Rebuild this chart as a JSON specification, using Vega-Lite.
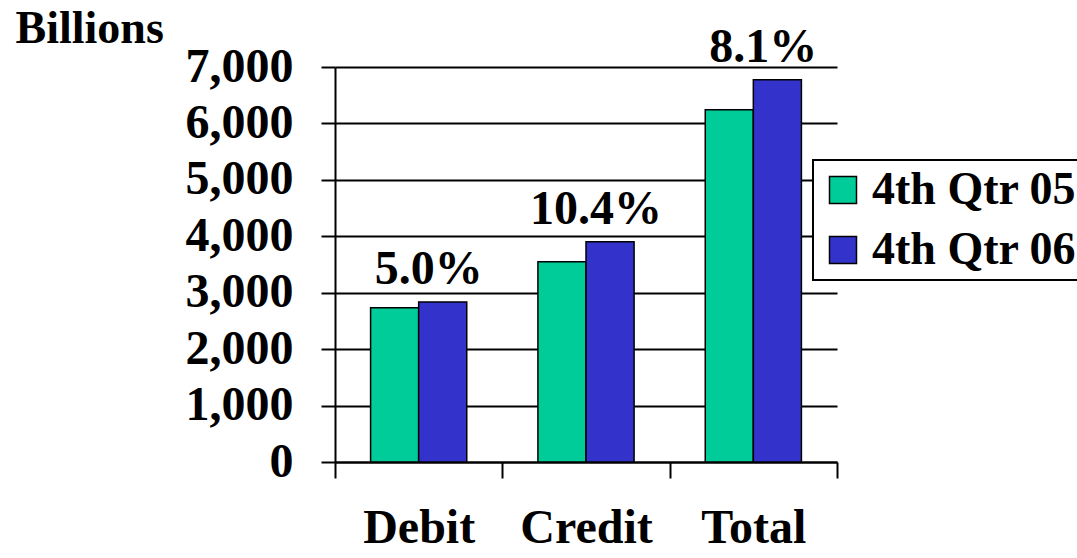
{
  "$schema": "https://vega.github.io/schema/vega-lite/v6.json",
  "width": 502,
  "height": 395,
  "autosize": "none",
  "padding": {"left": 335, "top": 67, "right": 240, "bottom": 96},
  "background": "white",
  "config": {"view": {"stroke": null}, "font": "Liberation Serif"},
  "data": {
    "values": [
      {"category": "Debit", "quarter": "4th Qtr 05", "value": 2733, "growth": "5.0%"},
      {"category": "Debit", "quarter": "4th Qtr 06", "value": 2835, "growth": "5.0%"},
      {"category": "Credit", "quarter": "4th Qtr 05", "value": 3550, "growth": "10.4%"},
      {"category": "Credit", "quarter": "4th Qtr 06", "value": 3905, "growth": "10.4%"},
      {"category": "Total", "quarter": "4th Qtr 05", "value": 6242, "growth": "8.1%"},
      {"category": "Total", "quarter": "4th Qtr 06", "value": 6775, "growth": "8.1%"}
    ]
  },
  "layer": [
    {
      "mark": {"type": "bar", "stroke": "black", "strokeWidth": 1.5},
      "encoding": {
        "x": {
          "field": "category", "type": "nominal", "sort": ["Debit", "Credit", "Total"],
          "scale": {"paddingInner": 0, "paddingOuter": 0},
          "axis": {
            "title": null, "labelAngle": 0, "labelFont": "Liberation Serif", "labelFontWeight": "bold",
            "labelFontSize": 48, "labelColor": "black", "tickBand": "extent", "tickSize": 16,
            "tickColor": "black", "tickWidth": 2, "domainColor": "black", "domainWidth": 2,
            "labelPadding": 26, "labelBaseline": "top", "grid": false
          }
        },
        "xOffset": {"field": "quarter", "type": "nominal", "scale": {"paddingInner": 0, "paddingOuter": 0.74}},
        "y": {
          "field": "value", "type": "quantitative", "scale": {"domain": [0, 7000], "nice": false},
          "axis": {
            "title": "Billions", "titleAngle": 0, "titleX": -320, "titleY": -25, "titleAlign": "left",
            "titleBaseline": "alphabetic", "titleFont": "Liberation Serif", "titleFontWeight": "bold",
            "titleFontSize": 46, "titleColor": "black",
            "values": [0, 1000, 2000, 3000, 4000, 5000, 6000, 7000], "format": ",.0f",
            "labelFont": "Liberation Serif", "labelFontWeight": "bold", "labelFontSize": 48,
            "labelColor": "black", "labelPadding": 28, "tickSize": 14, "tickColor": "black",
            "tickWidth": 2, "domainColor": "black", "domainWidth": 2,
            "grid": true, "gridColor": "black", "gridWidth": 2, "gridOpacity": 1
          }
        },
        "color": {
          "field": "quarter", "type": "nominal",
          "scale": {"range": ["#00CC99", "#3333CC"]},
          "legend": {
            "title": null, "orient": "none", "legendX": 478, "legendY": 93,
            "strokeColor": "black", "fillColor": "white", "padding": 7,
            "symbolType": "square", "symbolSize": 729, "symbolStrokeColor": "black",
            "symbolStrokeWidth": 1.5, "symbolOffset": 0, "labelFont": "Liberation Serif",
            "labelFontWeight": "bold", "labelFontSize": 46, "labelColor": "black",
            "labelOffset": 6, "rowPadding": 14, "labelLimit": 0,
            "encode": {"legend": {"update": {"strokeWidth": {"value": 2}}}}
          }
        }
      }
    },
    {
      "transform": [{"filter": "datum.quarter == '4th Qtr 06'"}],
      "mark": {"type": "text", "font": "Liberation Serif", "fontWeight": "bold", "fontSize": 48,
               "color": "black", "baseline": "alphabetic", "dx": 10, "dy": -18},
      "encoding": {
        "x": {"field": "category", "type": "nominal", "sort": ["Debit", "Credit", "Total"]},
        "y": {"field": "value", "type": "quantitative"},
        "text": {"field": "growth"}
      }
    }
  ]
}
